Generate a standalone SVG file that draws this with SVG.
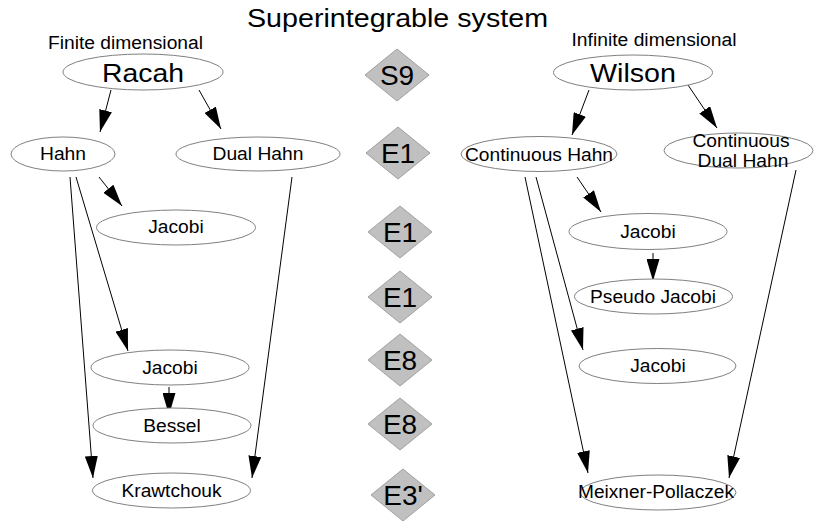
<svg xmlns="http://www.w3.org/2000/svg" width="815" height="523" viewBox="0 0 815 523">
<style>
text{font-family:"Liberation Sans",Arial,sans-serif;fill:#000;text-anchor:middle}
.lbl{font-size:17.5px}
.big{font-size:26px}
.hdr{font-size:18px}
.ttl{font-size:26px}
.dia{font-size:28px}
ellipse{fill:#fff;stroke:#808080;stroke-width:1}
.d polygon{fill:#c0c0c0;stroke:#a0a0a0;stroke-width:1}
#connectors line{stroke:#000;stroke-width:1;marker-end:url(#arr)}
</style>
<defs>
<marker id="arr" markerUnits="userSpaceOnUse" markerWidth="22" markerHeight="13" refX="22" refY="6.5" orient="auto">
<path d="M0,0 L22,6.5 L0,13 z" fill="#000"/>
</marker>
</defs>
<rect width="815" height="523" fill="#fff"/>
<text class="ttl" x="397.5" y="27" textLength="301" lengthAdjust="spacingAndGlyphs">Superintegrable system</text>
<text class="hdr" x="125.5" y="49" textLength="155" lengthAdjust="spacingAndGlyphs">Finite dimensional</text>
<text class="hdr" x="654" y="46" textLength="165" lengthAdjust="spacingAndGlyphs">Infinite dimensional</text>

<g id="connectors">
<line x1="111" y1="90" x2="100" y2="132"/>
<line x1="199" y1="90" x2="221" y2="129"/>
<line x1="99" y1="177" x2="122" y2="206"/>
<line x1="76" y1="177" x2="128" y2="351"/>
<line x1="70" y1="177" x2="93" y2="478"/>
<line x1="292" y1="177" x2="252" y2="478"/>
<line x1="169" y1="387" x2="169" y2="415"/>
<line x1="589" y1="90" x2="572" y2="135"/>
<line x1="688" y1="85" x2="717" y2="128"/>
<line x1="577" y1="177" x2="601" y2="212"/>
<line x1="653" y1="253" x2="653" y2="281"/>
<line x1="536" y1="177" x2="583" y2="350"/>
<line x1="525" y1="177" x2="588" y2="473"/>
<line x1="796" y1="170" x2="729" y2="478"/>
</g>

<g id="racah"><ellipse cx="143" cy="72" rx="80" ry="18"/><text class="big" x="143" y="82" textLength="82" lengthAdjust="spacingAndGlyphs">Racah</text></g>
<g id="wilson"><ellipse cx="633" cy="72.5" rx="79.5" ry="17.5"/><text class="big" x="633" y="82" textLength="86" lengthAdjust="spacingAndGlyphs">Wilson</text></g>
<g id="hahn"><ellipse cx="63" cy="154" rx="52" ry="17"/><text class="lbl" x="63" y="160" textLength="46" lengthAdjust="spacingAndGlyphs">Hahn</text></g>
<g id="dualhahn"><ellipse cx="258" cy="154" rx="82" ry="17"/><text class="lbl" x="258" y="160" textLength="91" lengthAdjust="spacingAndGlyphs">Dual Hahn</text></g>
<g id="jacobi1"><ellipse cx="176" cy="227.5" rx="79.5" ry="17.5"/><text class="lbl" x="176" y="233" textLength="55.5" lengthAdjust="spacingAndGlyphs">Jacobi</text></g>
<g id="jacobi2"><ellipse cx="170" cy="367.5" rx="79" ry="17.5"/><text class="lbl" x="170" y="374" textLength="55.5" lengthAdjust="spacingAndGlyphs">Jacobi</text></g>
<g id="bessel"><ellipse cx="172" cy="425.5" rx="79" ry="17.5"/><text class="lbl" x="172" y="432" textLength="57.6" lengthAdjust="spacingAndGlyphs">Bessel</text></g>
<g id="krawtchouk"><ellipse cx="171.5" cy="490.5" rx="79" ry="17.5"/><text class="lbl" x="171.5" y="497" textLength="100" lengthAdjust="spacingAndGlyphs">Krawtchouk</text></g>

<g id="conthahn"><ellipse cx="539" cy="154" rx="78" ry="17.5"/><text class="lbl" x="539" y="161" textLength="148" lengthAdjust="spacingAndGlyphs">Continuous Hahn</text></g>
<g id="contdualhahn"><ellipse cx="738.5" cy="150.5" rx="74.5" ry="17.5"/><text class="lbl" x="741" y="147" textLength="97" lengthAdjust="spacingAndGlyphs">Continuous</text><text class="lbl" x="743" y="167" textLength="91" lengthAdjust="spacingAndGlyphs">Dual Hahn</text></g>
<g id="jacobi3"><ellipse cx="648" cy="231.5" rx="79" ry="18"/><text class="lbl" x="648" y="238" textLength="55.5" lengthAdjust="spacingAndGlyphs">Jacobi</text></g>
<g id="pseudojacobi"><ellipse cx="653.5" cy="296.5" rx="79" ry="17.5"/><text class="lbl" x="653" y="303" textLength="126" lengthAdjust="spacingAndGlyphs">Pseudo Jacobi</text></g>
<g id="jacobi4"><ellipse cx="657.5" cy="366" rx="78.5" ry="17.5"/><text class="lbl" x="658" y="372" textLength="55.5" lengthAdjust="spacingAndGlyphs">Jacobi</text></g>
<g id="meixner"><ellipse cx="658" cy="492.5" rx="78" ry="17.5"/><text class="lbl" x="656" y="498" textLength="156" lengthAdjust="spacingAndGlyphs">Meixner-Pollaczek</text></g>

<g id="s9" class="d"><polygon points="397,49 429,75 397,101 365,75"/><text class="dia" x="397" y="85">S9</text></g>
<g id="e1a" class="d"><polygon points="398,127 430,153 398,179 366,153"/><text class="dia" x="398" y="163">E1</text></g>
<g id="e1b" class="d"><polygon points="400,206 432,232 400,258 368,232"/><text class="dia" x="400" y="242">E1</text></g>
<g id="e1c" class="d"><polygon points="400,271 432,297 400,323 368,297"/><text class="dia" x="400" y="307">E1</text></g>
<g id="e8a" class="d"><polygon points="400,334 432,360 400,386 368,360"/><text class="dia" x="400" y="370">E8</text></g>
<g id="e8b" class="d"><polygon points="400,398 432,424 400,450 368,424"/><text class="dia" x="400" y="434">E8</text></g>
<g id="e3p" class="d"><polygon points="403,469 435,495 403,521 371,495"/><text class="dia" x="403" y="505">E3'</text></g>
</svg>
